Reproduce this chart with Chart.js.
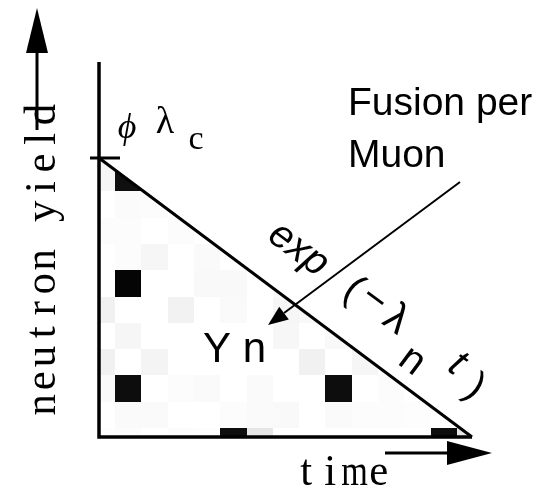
<!DOCTYPE html>
<html>
<head>
<meta charset="utf-8">
<script src="https://cdn.jsdelivr.net/npm/chart.js@4/dist/chart.umd.min.js"></script>
<style>
    html, body { margin: 0; padding: 0; background: #fff; }
</style>
</head>
<body>
<canvas id="chart" width="550" height="489"></canvas>
<script>
// grid of cells under the decay line, in time / yield units
let cellCols = [-1, 0, 1, 2, 3, 4, 5, 6, 7, 8, 9, 10, 11, 12, 13];
let cellRows = [10, 9, 8, 7, 6, 5, 4, 3, 2, 1, 0, -1];
// darkness per cell (0 white .. 1 black), one line per row above
let cellShade = [
    [0.035, 0, 0, 0, 0, 0, 0, 0, 0, 0, 0, 0, 0, 0, 0],
    [0.035, 0.94, 0, 0, 0, 0, 0, 0, 0, 0, 0, 0, 0, 0, 0],
    [0, 0.015, 0.012, 0, 0, 0, 0, 0, 0, 0, 0, 0, 0, 0, 0],
    [0.012, 0.012, 0, 0.012, 0, 0, 0, 0, 0, 0, 0, 0, 0, 0, 0],
    [0, 0.012, 0.035, 0, 0.018, 0, 0, 0, 0, 0, 0, 0, 0, 0, 0],
    [0, 0.98, 0, 0, 0.025, 0.025, 0, 0.025, 0, 0, 0, 0, 0, 0, 0],
    [0.055, 0, 0, 0.05, 0, 0.02, 0, 0.035, 0.025, 0, 0, 0, 0, 0, 0],
    [0, 0.035, 0, 0, 0, 0, 0, 0.03, 0, 0.025, 0, 0, 0, 0, 0],
    [0.055, 0, 0.045, 0, 0, 0, 0, 0, 0.055, 0, 0.035, 0, 0, 0, 0],
    [0.02, 0.95, 0, 0.012, 0.018, 0, 0.018, 0, 0, 0.95, 0, 0.012, 0, 0, 0],
    [0, 0.018, 0.018, 0, 0, 0.012, 0.018, 0.025, 0, 0.018, 0.012, 0.012, 0.008, 0, 0],
    [0.008, 0.012, 0, 0.012, 0.008, 0.95, 0.1, 0, 0, 0, 0, 0, 0, 0.95, 0.1]
];

let tRange = [-0.61, 13.57];
let yRange = [-0.34, 13.92];
let decayStart = 10.27;   // yield at t = 0
let decayEnd = 13.57;     // time where the line hits the axis

const SERIF = '"Liberation Serif", serif';
const SANS = '"Liberation Sans", Arial, sans-serif';
const tilt = Math.atan2(279, 373);

function arrow(ctx, x1, y1, x2, y2, w, headLen, headHalf) {
    let a = Math.atan2(y2 - y1, x2 - x1);
    let bx = x2 - headLen * Math.cos(a), by = y2 - headLen * Math.sin(a);
    ctx.lineWidth = w;
    ctx.beginPath();
    ctx.moveTo(x1, y1);
    ctx.lineTo(bx, by);
    ctx.stroke();
    ctx.beginPath();
    ctx.moveTo(x2, y2);
    ctx.lineTo(bx - headHalf * Math.sin(a), by + headHalf * Math.cos(a));
    ctx.lineTo(bx + headHalf * Math.sin(a), by - headHalf * Math.cos(a));
    ctx.closePath();
    ctx.fill();
}

function glyph(ctx, s, cx, cy, font, angle) {
    ctx.save();
    ctx.translate(cx, cy);
    ctx.rotate(angle || 0);
    ctx.font = font;
    ctx.textAlign = "center";
    ctx.textBaseline = "middle";
    ctx.fillText(s, 0, 0);
    ctx.restore();
}

// fixed-pitch serif text: every character gets the same slot width
function pitched(ctx, s, x0, slot, squeeze) {
    for (let i = 0; i < s.length; i++) {
        let k = s[i] === "m" ? squeeze * 0.8 : squeeze;
        ctx.save();
        ctx.translate(x0 + slot * (i + 0.5), 0);
        ctx.scale(k, 1);
        ctx.fillText(s[i], 0, 0);
        ctx.restore();
    }
}

const cellPlugin = {
    id: "cells",
    beforeDatasetsDraw(chart) {
        let { ctx, scales: { x, y } } = chart;
        let pts = chart.getDatasetMeta(0).data;
        ctx.save();
        ctx.beginPath();
        ctx.moveTo(pts[0].x, pts[0].y);
        ctx.lineTo(pts[1].x, pts[1].y);
        ctx.lineTo(x.getPixelForValue(tRange[0]), y.getPixelForValue(yRange[0]));
        ctx.closePath();
        ctx.clip();
        cellRows.forEach((r, i) => {
            cellCols.forEach((c, j) => {
                let v = cellShade[i][j];
                if (!v) return;
                let g = Math.round(255 * (1 - v));
                ctx.fillStyle = `rgb(${g},${g},${g})`;
                let x0 = Math.round(x.getPixelForValue(c));
                let x1 = Math.round(x.getPixelForValue(c + 1));
                let y0 = Math.round(y.getPixelForValue(r + 1));
                let y1 = Math.round(y.getPixelForValue(r));
                ctx.fillRect(x0, y0, x1 - x0, y1 - y0);
            });
        });
        ctx.restore();
    },
    afterDatasetsDraw(chart) {
        let { ctx, chartArea: area, scales: { x, y } } = chart;
        let ax = x.getPixelForValue(tRange[0]);
        let ay = y.getPixelForValue(yRange[0]);
        let topY = y.getPixelForValue(decayStart);
        ctx.save();
        ctx.strokeStyle = "#000";
        ctx.fillStyle = "#000";
        ctx.lineCap = "butt";

        // axes
        ctx.lineWidth = 3.5;
        ctx.beginPath();
        ctx.moveTo(ax, area.top);
        ctx.lineTo(ax, ay + 1.75);
        ctx.moveTo(ax - 1.75, ay);
        ctx.lineTo(x.getPixelForValue(decayEnd), ay);
        ctx.stroke();

        // tick at the starting yield
        ctx.lineWidth = 3;
        ctx.beginPath();
        ctx.moveTo(ax - 9, topY);
        ctx.lineTo(ax + 21, topY);
        ctx.stroke();

        // axis arrows
        arrow(ctx, 37, 130, 37, 8, 3, 45, 11);
        arrow(ctx, 385, 453, 492, 453, 3, 45, 12);
        // pointer from the caption into the area
        arrow(ctx, 460, 182, 268, 325, 2, 20, 8);

        // axis titles
        ctx.font = "45px " + SERIF;
        ctx.textAlign = "center";
        ctx.textBaseline = "alphabetic";
        ctx.save();
        ctx.translate(55, 260);
        ctx.rotate(-Math.PI / 2);
        pitched(ctx, "neutron yield", -157, 24.2, 0.95);
        ctx.restore();

        ctx.save();
        ctx.translate(0, 485);
        pitched(ctx, "time", 294, 24.2, 0.95);
        ctx.restore();

        // phi lambda_c
        glyph(ctx, "\u03d5", 127, 129, "italic 36px " + SERIF);
        glyph(ctx, "\u03bb", 165, 123, "38px " + SERIF);
        glyph(ctx, "c", 196, 140, "34px " + SERIF);

        // captions
        ctx.font = "39px " + SANS;
        ctx.textAlign = "left";
        ctx.textBaseline = "alphabetic";
        ctx.fillText("Fusion per", 348, 115);
        ctx.fillText("Muon", 348, 167);
        ctx.font = "42px " + SANS;
        ctx.fillText("Y n", 203, 362);

        // exp(-lambda_n t) along the decay line
        ctx.save();
        ctx.translate(266, 239);
        ctx.rotate(tilt);
        ctx.font = "italic 40px " + SANS;
        ctx.textAlign = "left";
        ctx.fillText("exp", 0, 0);
        ctx.restore();
        let f = "40px " + SANS;
        glyph(ctx, "(", 353, 290, f, tilt);
        glyph(ctx, "\u2212", 374, 300, f, tilt);
        glyph(ctx, "\u03bb", 396, 320, "42px " + SANS, tilt);
        glyph(ctx, "n", 412, 361, f, tilt);
        glyph(ctx, "t", 457, 364, "italic " + f, tilt);
        glyph(ctx, ")", 475, 388, f, tilt);

        ctx.restore();
    }
};

new Chart(document.getElementById("chart"), {
    type: "scatter",
    data: {
        datasets: [{
            data: [
                { x: tRange[0], y: decayStart },
                { x: decayEnd, y: yRange[0] }
            ],
            showLine: true,
            borderColor: "#000",
            borderWidth: 3,
            pointRadius: 0,
            tension: 0,
            clip: false
        }]
    },
    options: {
        responsive: false,
        animation: false,
        devicePixelRatio: 1,
        layout: { padding: { left: 99, right: 78, top: 62, bottom: 52 } },
        plugins: { legend: { display: false }, tooltip: { enabled: false } },
        scales: {
            x: { type: "linear", display: false, min: tRange[0], max: tRange[1] },
            y: { type: "linear", display: false, min: yRange[0], max: yRange[1] }
        }
    },
    plugins: [cellPlugin]
});
</script>
</body>
</html>
